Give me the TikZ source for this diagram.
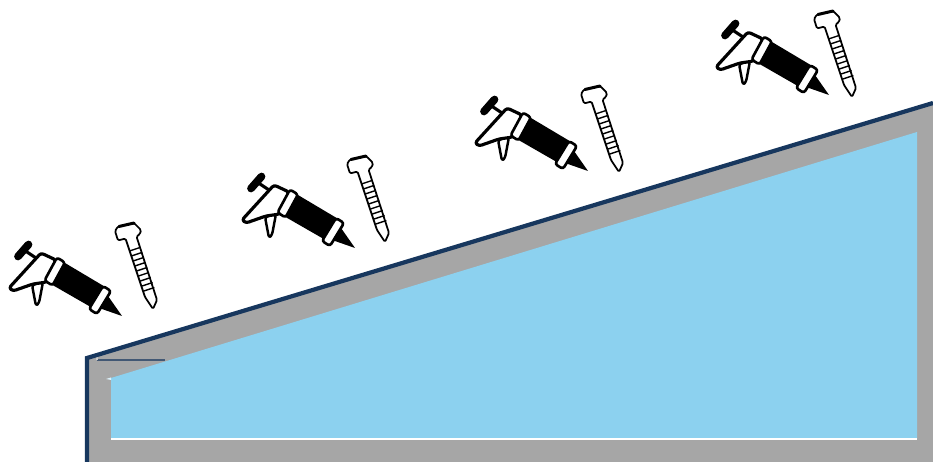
\documentclass[tikz,border=0pt]{standalone}
\usepackage{amsmath}
\definecolor{roofnavy}{HTML}{17375E}
\definecolor{wallgray}{HTML}{A6A6A6}
\definecolor{waterblue}{HTML}{8CD1EF}
\tikzset{
	outlinebk/.style={draw=black,line width=1.8pt,line join=round,fill=white,rounded corners=1.5pt},
	caulkgun/.pic={
		\draw[black,line width=1.8pt] (24,250)--(36,258);
		\draw[black,line width=4.4pt,line cap=round] (18,256.5)--(28.5,244.5);
		\fill[black] (65,263)--(107,288)--(96,310)--(49,283)--cycle;
		\fill[black] (108,296)--(122,316)--(99,308)--cycle;
		\draw[outlinebk,line width=1.4pt] (32,285)--(43,282)--(39,303)--(36,306)--cycle;
		\draw[outlinebk] (9,288)--(41,253)--(56,260)--(47,282)--(33,284)--(13,291)--cycle;
		\draw[outlinebk,line width=1.5pt] (57,257.5)--(65,262.5)--(52.5,285.5)--(44.5,280.5)--cycle;
		\draw[outlinebk,line width=1.5pt] (103,286)--(111,291)--(97,314)--(89,309)--cycle;
	},
	screwnail/.pic={
		\draw[outlinebk,line width=1pt,rounded corners=0.8pt] (115,231)--(118,226.5)--(134,223)--(141,230)--(140,234)--(136.5,236.5)
			--(157,300)--(153,309)--(145,297)--(125.5,238.5)--(118,240.5)--cycle;
		\draw[black,line width=1.7pt,line cap=round] (119,226.5)--(134,223);
		\foreach \i in {0,...,8}
			\draw[black,line width=0.8pt] ({129.5+\i*1.8},{251+\i*5})--++(10.5,-3.5);
	},
}
\begin{document}
\begin{tikzpicture}[x=0.02cm,y=-0.02cm]
	\useasboundingbox (0,0) rectangle (933,462);
	% wall and inside
	\fill[wallgray] (87,358)--(933,103)--(933,462)--(87,462)--cycle;
	\fill[waterblue] (111,378)--(917,132)--(917,439)--(111,439)--cycle;
	\draw[white,line width=0.9pt] (111,439)--(917,439);
	\fill[white!70!waterblue] (106,379)--(111,377.5)--(111,380)--cycle;
	\draw[roofnavy!70!wallgray,line width=0.6pt] (97,360)--(165,360);
	\draw[wallgray!60!white,line width=0.6pt] (97,354)--(97,360);
	\draw[roofnavy,line width=2.4pt] (87,462)--(87,358)--(933,103);
	% sealant guns and screws
	\foreach \gx/\gy/\nx/\ny [count=\k] in {0/0/0/0,233/-68/232/-67,466/-145/466/-137,707/-221/699/-212}{
		\pic (gun\k) at (\gx,\gy) {caulkgun};
		\pic (nail\k) at (\nx,\ny) {screwnail};
	}
\end{tikzpicture}
\end{document}
